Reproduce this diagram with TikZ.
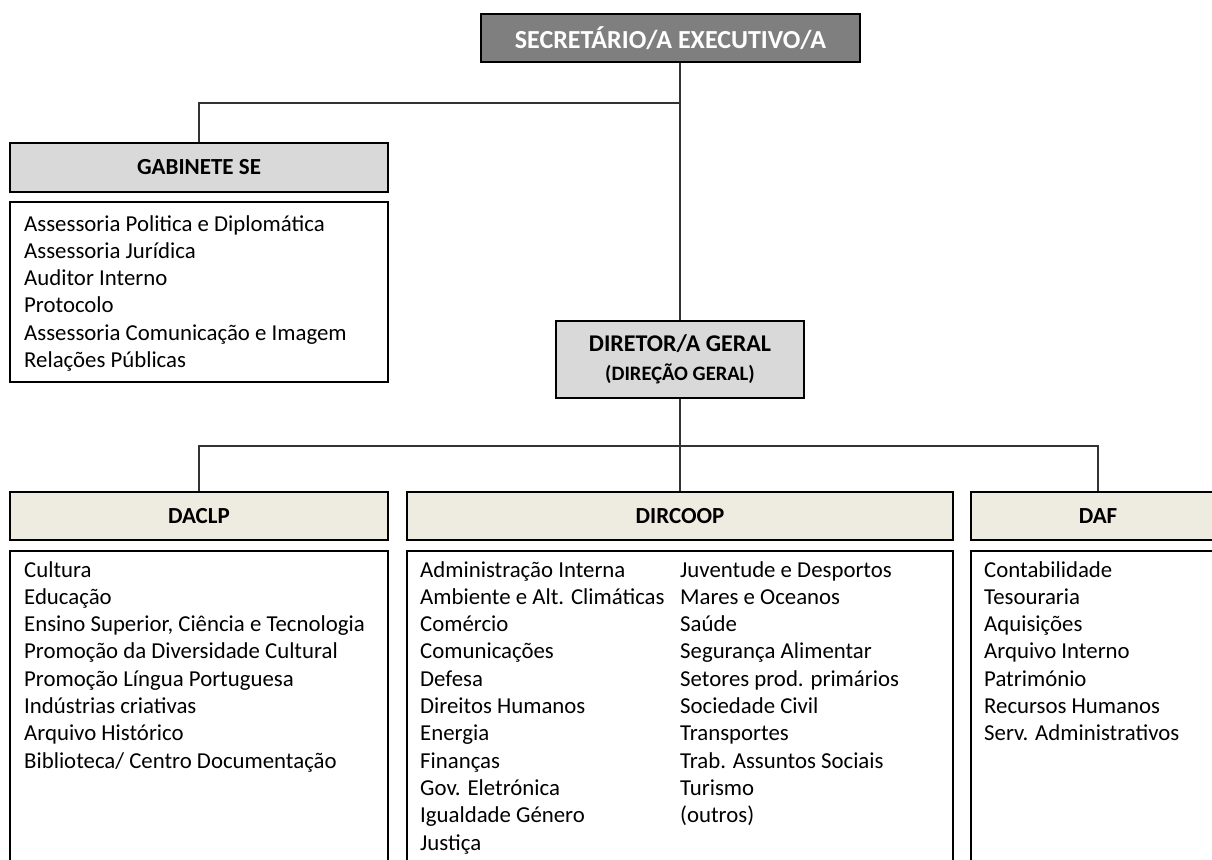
\documentclass[tikz,border=0pt]{standalone}
\usepackage{fontspec}
\setmainfont{Carlito}
\definecolor{segray}{HTML}{7F7F7F}
\definecolor{boxgray}{HTML}{D9D9D9}
\definecolor{dirtan}{HTML}{EEECE1}

\tikzset{
    head/.style={draw, line width=1.8pt, fill=dirtan, minimum height=48pt,
        inner sep=0pt, font=\bfseries\fontsize{23}{27}\selectfont},
    listbox/.style={draw, line width=1.8pt, fill=white, anchor=north, inner sep=0pt},
    item/.style={anchor=base west, inner sep=0pt, font=\fontsize{22.8}{27.3}\selectfont},
    link/.style={draw=black!80, line width=1.1pt},
}

\begin{document}
\begin{tikzpicture}[x=1pt,y=-1pt]
    \useasboundingbox (0,0) rectangle (1212,859);

    % top levels
    \node[head, fill=segray, text=white, minimum width=379pt,
        font=\bfseries\fontsize{26}{30}\selectfont] (se) at (670.5,38) {SECRETÁRIO/A EXECUTIVO/A};
    \node[head, fill=boxgray, minimum width=378pt, minimum height=49pt] (gab) at (199,167.5) {GABINETE SE};
    \node[listbox, minimum width=378pt, minimum height=180pt] (gabL) at (199,201) {};
    \node[head, fill=boxgray, minimum width=248pt, minimum height=77pt, align=center,
        font=\bfseries\fontsize{24}{29}\selectfont] (dg) at (680,359.5)
        {DIRETOR/A GERAL\\\fontsize{20.5}{22}\selectfont(DIREÇÃO GERAL)};

    % directions
    \node[head, minimum width=378pt] (daclp) at (199,516) {DACLP};
    \node[listbox, minimum width=378pt, minimum height=400pt] (daclpL) at (199,550) {};
    \node[head, minimum width=546pt] (dircoop) at (680,516) {DIRCOOP};
    \node[listbox, minimum width=546pt, minimum height=400pt] (dircoopL) at (680,550) {};
    \node[head, minimum width=254pt] (daf) at (1098,516) {DAF};
    \node[listbox, minimum width=254pt, minimum height=400pt] (dafL) at (1098,550) {};

    % connectors
    \coordinate (j1) at (680,103);
    \coordinate (j2) at (680,446);
    \draw[link] (se.south -| dg.north) -- (dg.north);
    \draw[link] (j1) -| (gab.north);
    \draw[link] (dg.south) -- (dircoop.north);
    \draw[link] (daclp.north) |- (j2) -| (daf.north);

    % lists
    \foreach \t [count=\i] in {Assessoria Politica e Diplomática, Assessoria Jurídica,
        Auditor Interno, Protocolo, Assessoria Comunicação e Imagem, Relações Públicas}
        \node[item] (gab\i) at (24,{231+27.3*(\i-1)}) {\t};
    \foreach \t [count=\i] in {Cultura, Educação, {Ensino Superior, Ciência e Tecnologia},
        Promoção da Diversidade Cultural, Promoção Língua Portuguesa, Indústrias criativas,
        Arquivo Histórico, Biblioteca/ Centro Documentação}
        \node[item] (daclp\i) at (24,{577+27.3*(\i-1)}) {\t};
    \foreach \t [count=\i] in {Administração Interna, Ambiente e Alt. Climáticas, Comércio,
        Comunicações, Defesa, Direitos Humanos, Energia, Finanças, Gov. Eletrónica,
        Igualdade Género, Justiça}
        \node[item] (coopa\i) at (420,{577+27.3*(\i-1)}) {\t};
    \foreach \t [count=\i] in {Juventude e Desportos, Mares e Oceanos, Saúde,
        Segurança Alimentar, Setores prod. primários, Sociedade Civil, Transportes,
        Trab. Assuntos Sociais, Turismo, (outros)}
        \node[item] (coopb\i) at (680,{577+27.3*(\i-1)}) {\t};
    \foreach \t [count=\i] in {Contabilidade, Tesouraria, Aquisições, Arquivo Interno,
        Património, Recursos Humanos, Serv. Administrativos}
        \node[item] (daf\i) at (984,{577+27.3*(\i-1)}) {\t};
\end{tikzpicture}
\end{document}
